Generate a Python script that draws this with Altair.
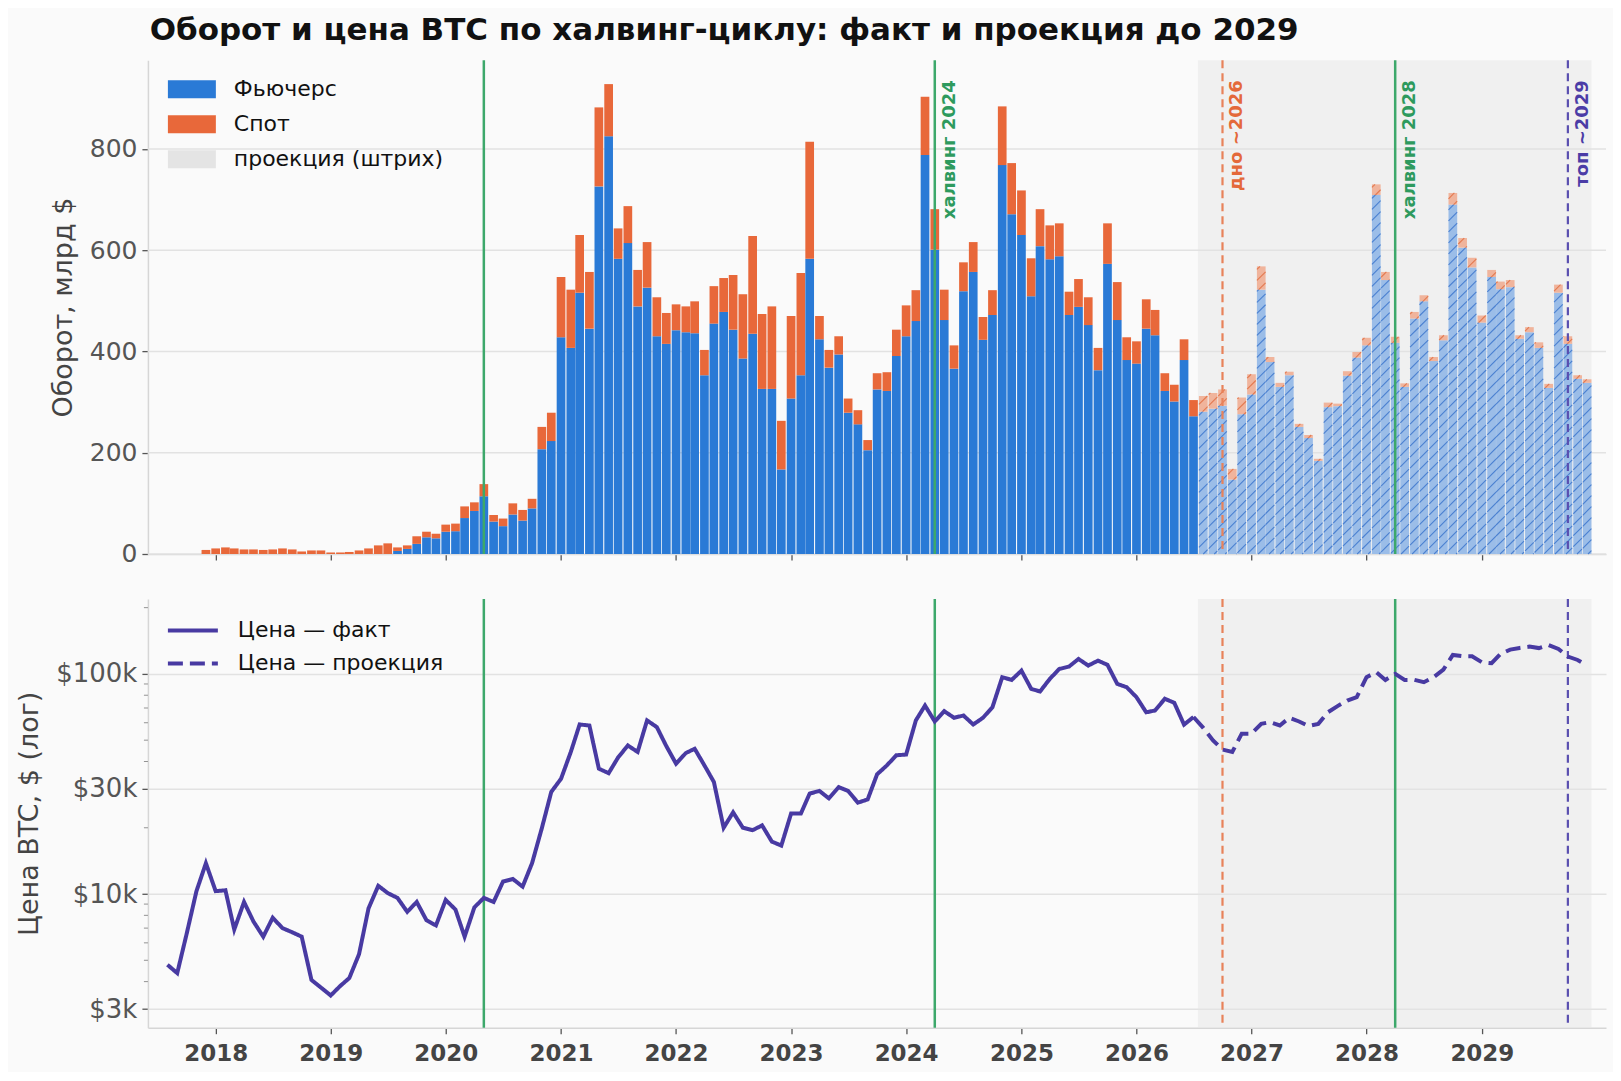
import numpy as np
import pandas as pd
import altair as alt

# ---- data ----
# monthly turnover, bn $: total = futures + spot
bar_start = "2017-12-01"
fact_total = [8, 11, 13, 11, 9, 9, 8, 9, 11, 9, 5, 7, 7,
              3, 3, 4, 7, 11, 17, 21, 13, 17, 35, 44, 40,
              58, 60, 94, 102, 138, 77, 70, 100, 87, 109, 251, 279,
              547, 522, 630, 557, 882, 928, 643, 687, 561, 616, 507, 476,
              493, 489, 499, 403, 529, 545, 551, 513, 628, 474, 489, 263,
              470, 555, 814, 470, 403, 430, 307, 284, 225, 357, 359, 443,
              491, 521, 903, 681, 522, 412, 576, 616, 468, 521, 884, 772,
              718, 584, 681, 649, 653, 518, 543, 507, 407, 653, 537, 428,
              420, 503, 482, 357, 334, 424, 304]
fact_fut = [0, 0, 0, 0, 0, 0, 0, 0, 0, 0, 0, 0, 0,
            0, 0, 0, 0, 0, 0, 0, 6, 10, 20, 33, 31,
            44, 45, 71, 85, 114, 64, 55, 78, 66, 90, 207, 223,
            428, 407, 516, 445, 726, 825, 583, 614, 489, 526, 430, 415,
            442, 438, 436, 353, 455, 478, 443, 386, 435, 326, 326, 167,
            307, 353, 583, 424, 368, 394, 279, 256, 205, 325, 322, 391,
            430, 460, 788, 601, 462, 366, 519, 557, 423, 472, 768, 671,
            630, 509, 608, 582, 588, 472, 488, 452, 363, 573, 462, 383,
            376, 445, 432, 322, 301, 383, 272]
proj_total = [312, 318, 325, 168, 309,
              355, 568, 389, 338, 360, 257, 235, 188, 299, 297, 361, 399,
              427, 730, 557, 429, 337, 478, 511, 389, 432, 713, 624, 585,
              471, 561, 538, 541, 432, 448, 418, 336, 532, 430, 353, 345]
proj_fut = [281, 287, 293, 147, 276,
            315, 522, 379, 330, 353, 251, 229, 184, 290, 292, 352, 388,
            412, 709, 541, 417, 330, 465, 499, 381, 422, 690, 605, 566,
            457, 547, 523, 527, 425, 438, 407, 328, 516, 415, 346, 338]

# BTC price, thousand $ (month close)
price_start = "2017-08-01"
price_fact = [4.77, 4.37, 6.6, 10.3, 13.8,
              10.3, 10.4, 6.9, 9.2, 7.5, 6.4, 7.8, 7.0, 6.7, 6.4, 4.07, 3.76,
              3.46, 3.83, 4.15, 5.33, 8.6, 10.9, 10.1, 9.6, 8.3, 9.2, 7.6, 7.2,
              9.4, 8.5, 6.4, 8.7, 9.6, 9.2, 11.4, 11.7, 10.8, 13.8, 19.9, 29.1,
              33.4, 44.2, 58.9, 58.3, 37.1, 35.4, 41.7, 47.3, 44.2, 61.5, 57.3, 47.0,
              39.1, 43.7, 45.7, 38.4, 32.3, 20.0, 23.5, 20.0, 19.5, 20.5, 17.3, 16.6,
              23.2, 23.2, 28.6, 29.4, 27.2, 30.6, 29.4, 26.0, 26.9, 35.0, 38.4, 42.7,
              43.0, 61.5, 71.8, 60.8, 67.7, 63.2, 64.7, 58.9, 63.2, 70.6, 96.6, 93.9,
              103.5, 85.5, 83.2, 94.9, 105.3, 108.0, 116.9, 109.1, 114.9, 109.9, 90.1, 87.0,
              78.4, 66.9, 68.2, 77.1, 73.9, 58.8, 63.7]
price_proj = [56.9, 49.9, 45.3, 44.2, 53.5,
              53.5, 59.3, 60.4, 58.3, 63.2, 60.8, 58.0, 59.3, 67.0, 71.4, 75.7, 78.4,
              96.6, 101.8, 93.9, 100.0, 93.9, 94.0, 91.7, 96.6, 104.6, 121.9, 120.3, 120.3,
              112.9, 111.8, 123.2, 128.9, 131.2, 133.0, 131.0, 135.3, 129.8, 119.9, 115.7, 109.1]

# markers on the time axis
event_dates = ["2020-05-01", "2024-04-01", "2026-10-01", "2028-04-01", "2029-10-01"]
event_labels = ["", "халвинг 2024", "дно ~2026", "халвинг 2028", "топ ~2029"]
event_kinds = ["halving", "halving", "bottom", "halving", "top"]
kind_line_colors = {"halving": "#3DA86B", "bottom": "#E8825A", "top": "#5A4FB0"}
kind_text_colors = {"halving": "#2E9A5E", "bottom": "#E4693A", "top": "#4B3CA6"}

series_names = ["Фьючерс", "Спот", "проекция (штрих)"]
series_colors = ["#2A7AD6", "#E8683A", "#E4E4E4"]
proj_colors = {"Фьючерс": "#9BBDE8", "Спот": "#F0B49C"}
price_names = ["Цена — факт", "Цена — проекция"]
years = list(range(2018, 2030))
major_price_ticks = [3000, 10000, 30000, 100000]
minor_price_ticks = [4000, 5000, 6000, 7000, 8000, 9000, 20000,
                     40000, 50000, 60000, 70000, 80000, 90000, 200000]
top_ticks = [0, 200, 400, 600, 800]

# ---- layout constants ----
W, H_TOP, H_BOT = 1459, 494, 429
dom_start = pd.Timestamp("2017-05-31")
dom_end = pd.Timestamp("2030-01-30")
Y_TOP_MAX = 975
half = pd.Timedelta(days=13.8)
one_day = pd.Timedelta(days=1)

# ---- frames ----
n_fact, n_proj = len(fact_total), len(proj_total)
months = pd.date_range(bar_start, periods=n_fact + n_proj, freq="MS")
rows = []
for i, d in enumerate(months):
    if i < n_fact:
        t, f, p = fact_total[i], fact_fut[i], "fact"
    else:
        t, f, p = proj_total[i - n_fact], proj_fut[i - n_fact], "proj"
    for s, lo, hi in (("Фьючерс", 0, f), ("Спот", f, t)):
        rows.append(dict(x0=d - half, x1=d + half, lo=lo, hi=hi, series=s,
                         phase=p, pcol=proj_colors[s]))
bars = pd.DataFrame(rows)

proj_months = months[n_fact:]
band = pd.DataFrame({
    "b0": [proj_months[0] - pd.Timedelta(days=17)],
    "b1": [proj_months[-1] + pd.Timedelta(days=14)],
})

# diagonal hatch ("///") over projected bars, 45 degrees on screen
px_day = W / ((dom_end - dom_start) / one_day)
px_unit = H_TOP / Y_TOP_MAX
slope = px_day / px_unit
step = 11 / px_unit
hatch = []
for d, t, f in zip(proj_months, proj_total, proj_fut):
    xl = (d - half - dom_start) / one_day
    xr = (d + half - dom_start) / one_day
    for part, lo, hi in (("fut", 0, f), ("spot", f, t)):
        kmin = int(np.ceil((lo - slope * xr) / step))
        kmax = int(np.floor((hi - slope * xl) / step))
        for k in range(kmin, kmax + 1):
            c = k * step
            a = max(xl, (lo - c) / slope)
            b = min(xr, (hi - c) / slope)
            if b - a > 0.4:
                hatch.append(dict(h0=dom_start + a * one_day, h1=dom_start + b * one_day,
                                  v0=slope * a + c, v1=slope * b + c, part=part))
hatch = pd.DataFrame(hatch)

events = pd.DataFrame({
    "date": pd.to_datetime(event_dates),
    "label": event_labels,
    "kind": event_kinds,
})
events["lcol"] = events["kind"].map(kind_line_colors)
events["tcol"] = events["kind"].map(kind_text_colors)

p_dates = pd.date_range(price_start, periods=len(price_fact) + len(price_proj), freq="MS")
price = pd.concat([
    pd.DataFrame({"date": p_dates[:len(price_fact)],
                  "price": np.array(price_fact) * 1000, "kind": price_names[0]}),
    pd.DataFrame({"date": p_dates[len(price_fact) - 1:],
                  "price": np.array([price_fact[-1]] + price_proj) * 1000, "kind": price_names[1]}),
])
minor = pd.DataFrame({"v": minor_price_ticks})
grid_top = pd.DataFrame({"g": top_ticks})

# ---- shared pieces ----
x_scale = alt.Scale(domain=[alt.DateTime(year=2017, month=5, date=31),
                            alt.DateTime(year=2030, month=1, date=30)])
year_vals = [alt.DateTime(year=y, month=1, date=1) for y in years]


def x_enc(field, labels):
    return alt.X(field, type="temporal", scale=x_scale, title=None,
                 axis=alt.Axis(values=year_vals, format="%Y", labels=labels,
                               labelFontWeight="bold", labelFontSize=23, labelColor="#444",
                               labelPadding=9))


def band_layer(h, labels):
    return alt.Chart(band).mark_rect(opacity=0.45, fill="#E4E4E4").encode(
        x=x_enc("b0", labels), x2="b1:T", y=alt.value(0), y2=alt.value(h))


def event_rules(labels):
    halv = alt.Chart(events).transform_filter(alt.datum.kind == "halving").mark_rule(
        strokeWidth=2.5, color="#3DA86B").encode(x=x_enc("date", labels))
    other = alt.Chart(events).transform_filter(alt.datum.kind != "halving").mark_rule(
        strokeWidth=2.2, strokeDash=[8, 5]).encode(
        x=x_enc("date", labels), stroke=alt.Stroke("lcol:N", scale=None))
    return halv + other


# ---- top panel: turnover ----
color_scale = alt.Scale(domain=series_names, range=series_colors)
top_legend = alt.Legend(title=None, orient="none", legendX=20, legendY=5, padding=0,
                        symbolType="M-1,-0.375H1V0.375H-1Z", symbolSize=2304,
                        symbolOpacity=1, symbolStrokeWidth=0, labelFontSize=22,
                        labelColor="#111", labelOffset=18, rowPadding=0, labelLimit=0)
y_top = alt.Y("lo:Q", scale=alt.Scale(domain=[0, Y_TOP_MAX], nice=False),
              title="Оборот, млрд $",
              axis=alt.Axis(values=top_ticks, grid=False))

grid_rules = alt.Chart(grid_top).mark_rule(color="#E2E2E2", strokeWidth=1.5).encode(
    y=alt.Y("g:Q", scale=alt.Scale(domain=[0, Y_TOP_MAX], nice=False)),
    x=alt.value(0), x2=alt.value(W))
fact_bars = alt.Chart(bars).transform_filter(alt.datum.phase == "fact").mark_bar().encode(
    x=x_enc("x0", False), x2="x1:T", y=y_top, y2="hi:Q",
    color=alt.Color("series:N", scale=color_scale, legend=top_legend))
proj_bars = alt.Chart(bars).transform_filter(alt.datum.phase == "proj").mark_bar().encode(
    x=x_enc("x0", False), x2="x1:T", y=y_top, y2="hi:Q",
    fill=alt.Fill("pcol:N", scale=None))
hatch_fut = alt.Chart(hatch).transform_filter(alt.datum.part == "fut").mark_rule(
    color="#3C76CC", strokeWidth=1.1, opacity=0.85).encode(
    x=x_enc("h0", False), x2="h1:T", y="v0:Q", y2="v1:Q")
hatch_spot = alt.Chart(hatch).transform_filter(alt.datum.part == "spot").mark_rule(
    color="#E06A3C", strokeWidth=1.1, opacity=0.8).encode(
    x=x_enc("h0", False), x2="h1:T", y="v0:Q", y2="v1:Q")
labels = alt.Chart(events).transform_filter(alt.datum.label != "").mark_text(
    angle=270, align="right", baseline="top", dy=6, fontSize=18, fontWeight="bold").encode(
    x=x_enc("date", False), y=alt.value(20), text="label:N",
    color=alt.Color("tcol:N", scale=None))

top = alt.layer(
    band_layer(H_TOP, False), grid_rules, fact_bars, proj_bars, hatch_fut, hatch_spot,
    event_rules(False), labels,
).properties(width=W, height=H_TOP)

# ---- bottom panel: price, log scale ----
y_price = alt.Scale(type="log", domain=[2470, 219000], nice=False)
bot_legend = alt.Legend(title=None, orient="none", legendX=18, legendY=15, padding=0,
                        symbolType="stroke", symbolSize=2500, symbolStrokeWidth=4,
                        labelFontSize=22, labelColor="#111", labelOffset=18, rowPadding=0,
                        clipHeight=33, labelLimit=0)
minor_ticks = alt.Chart(minor).mark_tick(orient="horizontal", size=4, thickness=1,
                                         color="#666").encode(
    y=alt.Y("v:Q", scale=y_price), x=alt.value(-2))
line = alt.Chart(price).mark_line(strokeWidth=4).encode(
    x=x_enc("date", True),
    y=alt.Y("price:Q", scale=y_price, title="Цена BTC, $ (лог)",
            axis=alt.Axis(values=major_price_ticks, labelFontSize=26,
                          labelExpr="'$' + format(datum.value / 1000, 'd') + 'k'")),
    color=alt.Color("kind:N", scale=alt.Scale(domain=price_names, range=["#483AA2", "#483AA2"]),
                    legend=bot_legend),
    strokeDash=alt.StrokeDash("kind:N", scale=alt.Scale(domain=price_names, range=[[1, 0], [15, 7]]),
                              legend=bot_legend),
)
bottom = alt.layer(
    band_layer(H_BOT, True), event_rules(True), minor_ticks, line,
).properties(width=W, height=H_BOT)

chart = alt.vconcat(top, bottom, spacing=30).resolve_scale(
    color="independent", strokeDash="independent"
).properties(
    title=alt.Title("Оборот и цена BTC по халвинг-циклу: факт и проекция до 2029",
                    anchor="start", fontSize=31, fontWeight="bold", color="#111",
                    dx=134, offset=12),
    padding={"left": 7, "top": 6, "right": 6, "bottom": 6},
).configure(
    background="#FAFAFA", font="DejaVu Sans"
).configure_view(stroke=None).configure_axis(
    domainColor="#D6D6D6", domainWidth=1.5, tickColor="#555", tickWidth=1.3, tickSize=6,
    labelFont="DejaVu Sans", labelFontSize=25, labelColor="#555", labelPadding=5,
    titleFont="DejaVu Sans", titleFontSize=27, titleFontWeight="normal", titleColor="#444",
    titlePadding=12,
).configure_axisX(grid=False).configure_axisY(gridColor="#E2E2E2", gridWidth=1.5)

chart.save("out.html", embed_options={"renderer": "svg", "actions": False})
